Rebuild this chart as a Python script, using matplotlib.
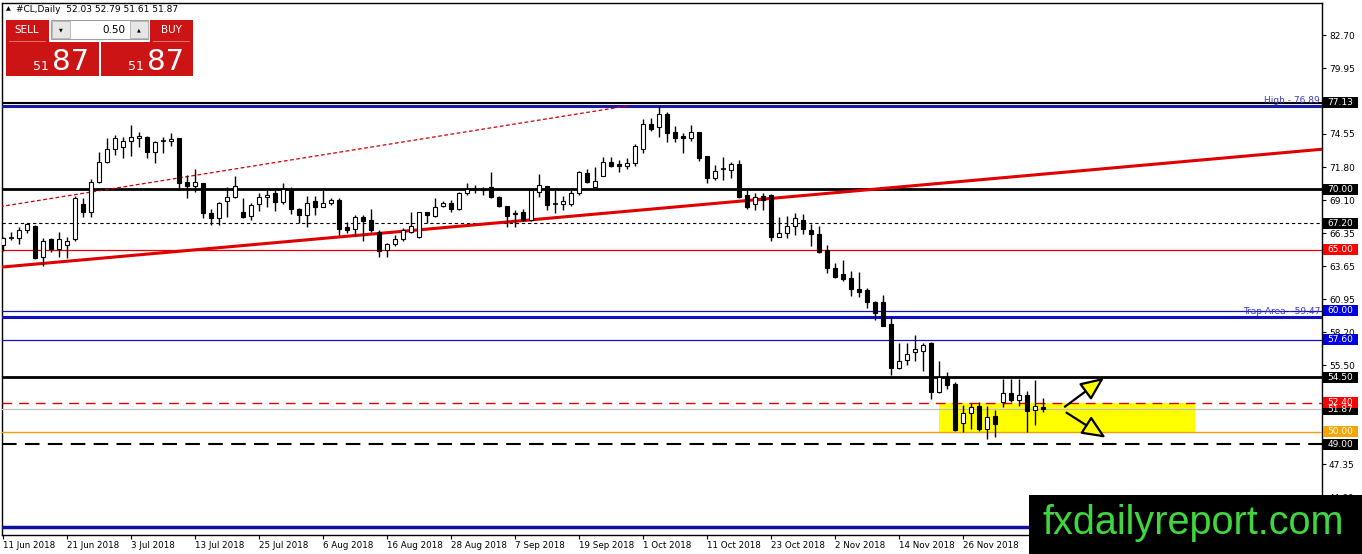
import matplotlib
matplotlib.use('Agg')
import matplotlib.pyplot as plt
from matplotlib.patches import Rectangle
from matplotlib.transforms import blended_transform_factory

# daily OHLC of #CL (one bar per trading day, 11 Jun -> 10 Dec 2018)
opens = [65.4, 65.98, 65.95, 66.6, 67.0, 64.4, 65.9, 65.1, 65.4, 65.9,
         68.75, 68.15, 70.6, 72.2, 73.3, 73.45, 74.0, 74.2, 74.3, 73.1,
         73.95, 73.95, 74.2, 70.6, 70.25, 70.5, 68.0, 67.6, 69.0, 69.35,
         68.1, 67.8, 68.75, 69.35, 69.65, 68.95, 69.98, 68.4, 67.85, 69.0,
         68.55, 68.9, 69.1, 66.85, 66.7, 67.7, 67.45, 66.5, 64.95, 65.5,
         65.9, 66.5, 66.1, 68.1, 67.8, 68.6, 68.9, 68.4, 69.65, 69.9,
         70.0, 70.15, 69.38, 68.6, 68.05, 68.15, 67.45, 69.8, 70.25, 68.8,
         68.8, 68.8, 69.65, 71.35, 70.2, 71.1, 72.2, 72.1, 71.95, 72.15,
         73.3, 75.4, 75.1, 76.2, 74.7, 74.4, 74.2, 74.7, 72.7, 70.95,
         71.7, 71.6, 72.1, 69.5, 68.75, 69.45, 69.5, 66.1, 66.4, 66.95,
         67.5, 66.6, 66.3, 64.95, 63.5, 63.0, 62.65, 61.8, 61.7, 60.73,
         60.7, 58.9, 55.25, 55.95, 56.55, 56.7, 57.35, 53.3, 54.55, 53.95,
         50.7, 51.55, 52.1, 50.25, 51.3, 52.5, 53.2, 52.65, 53.05, 51.8,
         52.03]
highs = [66.05, 66.5, 66.9, 67.2, 67.05, 66.0, 65.95, 66.5, 66.1, 69.45,
         69.25, 70.8, 73.1, 74.2, 74.5, 74.3, 75.3, 74.7, 74.35, 74.0,
         74.3, 74.65, 74.25, 71.15, 71.65, 70.55, 68.4, 68.95, 70.15, 71.1,
         69.25, 68.85, 69.65, 69.95, 69.9, 70.5, 70.15, 68.45, 69.4, 69.4,
         69.95, 69.25, 69.25, 67.3, 67.9, 67.9, 68.35, 66.6, 65.6, 66.25,
         66.8, 68.15, 68.15, 68.15, 69.25, 69.0, 69.15, 69.8, 70.5, 70.35,
         70.2, 71.45, 69.45, 68.65, 68.25, 68.4, 69.95, 71.25, 70.3, 69.93,
         69.4, 69.95, 71.5, 71.7, 71.85, 72.65, 72.65, 72.4, 72.55, 73.75,
         75.75, 75.85, 76.89, 76.4, 75.2, 74.6, 75.3, 74.75, 72.75, 71.99,
         72.65, 72.25, 72.4, 69.95, 69.7, 69.7, 69.6, 67.7, 67.8, 68.0,
         67.95, 67.15, 66.95, 65.4, 63.9, 64.15, 63.3, 63.2, 61.85, 60.75,
         61.3, 59.45, 57.35, 57.35, 57.95, 57.35, 57.45, 55.85, 54.9, 54.15,
         52.2, 52.4, 52.5, 52.15, 51.8, 54.4, 54.4, 54.4, 53.35, 54.25,
         52.79]
lows = [64.9, 65.8, 65.5, 66.4, 64.25, 63.7, 64.8, 64.4, 64.3, 65.75,
        67.75, 67.7, 70.5, 72.15, 72.85, 72.55, 72.7, 73.45, 72.55, 72.15,
        73.0, 73.55, 70.1, 69.25, 69.8, 67.6, 67.05, 67.05, 67.75, 69.25,
        67.6, 67.5, 68.2, 68.55, 68.2, 68.8, 67.95, 67.25, 66.9, 67.9,
        68.5, 68.7, 66.2, 66.4, 66.15, 65.7, 66.5, 64.4, 64.4, 65.3,
        65.7, 66.35, 65.95, 67.2, 67.75, 68.5, 68.15, 68.25, 69.5, 69.65,
        69.5, 69.25, 68.5, 66.9, 66.9, 67.35, 67.35, 69.38, 68.25, 68.0,
        68.3, 68.6, 69.55, 70.5, 70.15, 71.1, 71.85, 71.45, 71.7, 71.9,
        73.0, 74.8, 74.3, 73.85, 73.85, 73.0, 74.0, 72.35, 70.5, 70.75,
        70.75, 70.95, 69.25, 68.35, 68.25, 68.25, 65.7, 66.05, 65.95, 66.2,
        66.3, 65.3, 64.77, 63.1, 62.65, 62.45, 61.2, 61.1, 60.25, 59.22,
        58.7, 54.7, 55.15, 55.5, 55.88, 55.05, 52.75, 53.25, 53.5, 50.1,
        50.0, 50.25, 50.1, 49.4, 49.6, 52.05, 52.45, 52.1, 50.0, 50.55,
        51.61]
closes = [65.95, 66.02, 66.6, 67.1, 64.3, 65.75, 65.05, 65.9, 65.75, 69.25,
          68.15, 70.6, 72.25, 73.3, 74.2, 74.0, 74.3, 74.4, 73.1, 73.85,
          73.9, 74.15, 70.55, 70.25, 70.6, 68.0, 67.6, 68.9, 69.35, 70.25,
          67.7, 68.7, 69.35, 69.55, 68.95, 69.98, 68.35, 67.85, 68.9, 68.55,
          68.85, 69.1, 66.7, 66.65, 67.75, 67.35, 66.6, 64.9, 65.45, 65.9,
          66.6, 66.95, 68.1, 67.9, 68.5, 68.9, 68.4, 69.65, 69.98, 69.95,
          69.9, 69.38, 68.6, 67.8, 67.95, 67.45, 69.93, 70.35, 68.7, 68.85,
          69.0, 69.65, 71.45, 70.6, 70.65, 72.2, 71.95, 71.95, 72.15, 73.55,
          75.4, 74.95, 76.2, 74.6, 74.25, 74.2, 74.7, 72.55, 70.9, 71.5,
          71.75, 72.1, 69.38, 68.55, 69.35, 69.15, 66.05, 66.4, 66.95, 67.6,
          66.7, 66.3, 64.85, 63.5, 62.8, 62.6, 61.75, 61.55, 60.73, 59.78,
          58.73, 55.25, 55.85, 56.4, 56.8, 57.15, 53.3, 54.55, 53.85, 50.16,
          51.6, 52.05, 50.25, 51.2, 50.65, 53.2, 52.65, 53.05, 51.7, 52.15,
          51.87]

dateLabels = ['11 Jun 2018', '21 Jun 2018', '3 Jul 2018', '13 Jul 2018', '25 Jul 2018',
              '6 Aug 2018', '16 Aug 2018', '28 Aug 2018', '7 Sep 2018', '19 Sep 2018',
              '1 Oct 2018', '11 Oct 2018', '23 Oct 2018', '2 Nov 2018', '14 Nov 2018',
              '26 Nov 2018']
# scale steps; the ones under the level boxes are not labelled
priceTicks = [82.70, 79.95, 77.25, 74.55, 71.80, 69.10, 66.35, 63.65, 60.95,
              58.20, 55.50, 52.75, 50.05, 47.35, 44.60]
hiddenTicks = [77.25, 52.75, 50.05]

# drawn objects on the chart
hLevels = [77.13, 76.89, 70.00, 67.20, 65.00, 60.00, 59.47, 57.60, 54.50,
           52.40, 51.87, 50.00, 49.00, 42.20]
hColors = ['black', '#1a1aa8', 'black', 'black', '#e00000', '#1010c0', '#1010c0',
           '#1010c0', 'black', '#e00000', '#c0c0c0', '#f0a000', 'black', '#1010a0']
hWidths = [1.5, 2.2, 2.0, 0.8, 0.9, 0.9, 2.2, 0.9, 2.0, 1.0, 0.9, 1.0, 1.5, 2.5]
hStyles = ['-', '-', '-', (0, (3, 2.5)), '-', '-', '-', '-', '-', (0, (7, 5)),
           '-', '-', (0, (7, 4)), '-']

boxLevels = [77.13, 70.00, 67.20, 65.00, 60.00, 57.60, 54.50, 51.87, 52.40, 50.00, 49.00]
boxColors = ['black', 'black', 'black', '#ff0000', '#0000e0', '#0000e0', 'black',
             'black', '#ff0000', '#f5a400', 'black']

trendLine = [(-0.41, 63.57), (164.8, 73.29)]
highLine = [(-0.41, 68.56), (78.3, 76.89)]
zoneBars = (117, 149)
zonePrices = (50.00, 52.40)
arrowUp = [(132.7, 52.08), (137.6, 54.47)]
arrowDown = [(132.9, 51.59), (137.8, 49.53)]

W, H = 1362, 554
fig = plt.figure(figsize=(W / 100, H / 100), dpi=100)
fig.patch.set_facecolor('white')


def fx(x):
    return x / W


def fy(y):
    return 1 - y / H


def pxRect(x0, y0, x1, y1, **kw):
    fig.add_artist(Rectangle((fx(x0), fy(y1)), (x1 - x0) / W, (y1 - y0) / H,
                             transform=fig.transFigure, **kw))


ax = fig.add_axes([fx(2), fy(535), (1322 - 2) / W, (535 - 3) / H])
ax.set_xlim(-0.16, 164.84)
ax.set_ylim(41.51, 85.34)
for sp in ax.spines.values():
    sp.set_color('black')
    sp.set_linewidth(1.0)

# candles
xs = list(range(len(opens)))
ax.vlines(xs, lows, highs, color='black', linewidth=1.0, zorder=4)
for i in xs:
    o, c = opens[i], closes[i]
    lo, hi = min(o, c), max(o, c)
    fill = 'white' if c >= o else 'black'
    if hi - lo < 0.06:
        ax.hlines(o, i - 0.3, i + 0.3, color='black', linewidth=1.2, zorder=5)
    else:
        ax.bar(i, hi - lo, bottom=lo, width=0.55, color=fill, edgecolor='black',
               linewidth=0.8, zorder=5)

# horizontal levels
for lv, col, lw, ls in zip(hLevels, hColors, hWidths, hStyles):
    ax.axhline(lv, color=col, linewidth=lw, linestyle=ls, zorder=3)

# trend lines
ax.plot([p[0] for p in trendLine], [p[1] for p in trendLine], color='#e00000',
        linewidth=2.2, zorder=3)
ax.plot([p[0] for p in highLine], [p[1] for p in highLine], color='#cc0000',
        linewidth=0.9, linestyle=(0, (3, 2)), zorder=3)

# consolidation box + arrows
ax.add_patch(Rectangle((zoneBars[0], zonePrices[0]), zoneBars[1] - zoneBars[0],
                       zonePrices[1] - zonePrices[0], facecolor='#ffff00',
                       edgecolor='none', zorder=1))
for arr in (arrowUp, arrowDown):
    ax.annotate('', xy=arr[1], xytext=arr[0],
                arrowprops=dict(arrowstyle='-|>,head_length=1.6,head_width=0.7',
                                mutation_scale=9, facecolor='#ffff00',
                                edgecolor='black', linewidth=1.6, shrinkA=0, shrinkB=0),
                zorder=6)

# object labels
trX = blended_transform_factory(ax.transAxes, ax.transData)
ax.text(0.9985, 76.95, 'High - 76.89', transform=trX, ha='right', va='bottom',
        fontsize=6.5, color='#3a3ac8', zorder=6)
ax.text(0.9985, 59.52, 'Trap Area - 59.47', transform=trX, ha='right', va='bottom',
        fontsize=6.5, color='#3a3ac8', zorder=6)

# axes ticks
ax.yaxis.tick_right()
ax.set_yticks(priceTicks)
ax.set_yticklabels(['' if t in hiddenTicks else '%.2f' % t for t in priceTicks])
ax.tick_params(axis='y', direction='out', length=3, pad=2, labelsize=6.5,
               colors='black')
ax.set_xticks(list(range(0, 8 * len(dateLabels), 8)))
ax.set_xticklabels(dateLabels)
ax.tick_params(axis='x', direction='out', length=3, pad=1, labelsize=6.3,
               colors='black')
for lbl in ax.get_xticklabels():
    lbl.set_ha('left')

# price boxes on the right scale (fixed pixel size, centred on the level)
for lv, col in zip(boxLevels, boxColors):
    yPix = H - ax.transData.transform((0, lv))[1]
    pxRect(1323, yPix - 5.5, 1358, yPix + 5.5, facecolor=col, edgecolor='none', zorder=12)
    fig.text(fx(1340.5), fy(yPix), '%.2f' % lv, color='white', fontsize=6.5,
             ha='center', va='center', zorder=13)

# header line
fig.text(fx(6), fy(9), '\u25b2', fontsize=4.5, va='center', ha='left')
fig.text(fx(16), fy(9), '#CL,Daily  52.03 52.79 51.61 51.87', fontsize=6.5,
         va='center', ha='left')

# one-click trading panel
red = '#cc1414'
pxRect(6, 20, 49, 42, facecolor=red, edgecolor='none', zorder=5)
pxRect(6, 42, 99, 76, facecolor=red, edgecolor='none', zorder=5)
pxRect(150, 20, 193, 42, facecolor=red, edgecolor='none', zorder=5)
pxRect(101, 42, 193, 76, facecolor=red, edgecolor='none', zorder=5)
pxRect(9, 41, 46, 42, facecolor='#e87070', edgecolor='none', zorder=6)
pxRect(153, 41, 190, 42, facecolor='#e87070', edgecolor='none', zorder=6)
pxRect(51, 20, 148, 39, facecolor='white', edgecolor='#a0a0a0', linewidth=0.8, zorder=5)
pxRect(52, 21, 70, 38, facecolor='#e6e6e6', edgecolor='#b0b0b0', linewidth=0.6, zorder=6)
pxRect(130, 21, 148, 38, facecolor='#e6e6e6', edgecolor='#b0b0b0', linewidth=0.6, zorder=6)
fig.text(fx(27), fy(30), 'SELL', color='white', fontsize=7.5, ha='center', va='center', zorder=7)
fig.text(fx(171), fy(30), 'BUY', color='white', fontsize=7.5, ha='center', va='center', zorder=7)
fig.text(fx(61), fy(30), '\u25bc', fontsize=3.5, ha='center', va='center', zorder=7)
fig.text(fx(139), fy(30), '\u25b2', fontsize=3.5, ha='center', va='center', zorder=7)
fig.text(fx(125), fy(30), '0.50', fontsize=7.5, ha='right', va='center', zorder=7)
for x0 in (6, 101):
    fig.text(fx(x0 + 43), fy(70), '51', color='white', fontsize=9, ha='right',
             va='baseline', zorder=7)
    fig.text(fx(x0 + 46), fy(70), '87', color='white', fontsize=21, ha='left',
             va='baseline', zorder=7)

# watermark
pxRect(1029, 495, 1362, 554, facecolor='black', edgecolor='none', zorder=10)
fig.text(fx(1193), fy(523), 'fxdailyreport.com', color='#3ed83e', fontsize=28.5,
         family='Liberation Sans', ha='center', va='center', zorder=11)

fig.savefig('out.png', dpi=100, facecolor='white')
